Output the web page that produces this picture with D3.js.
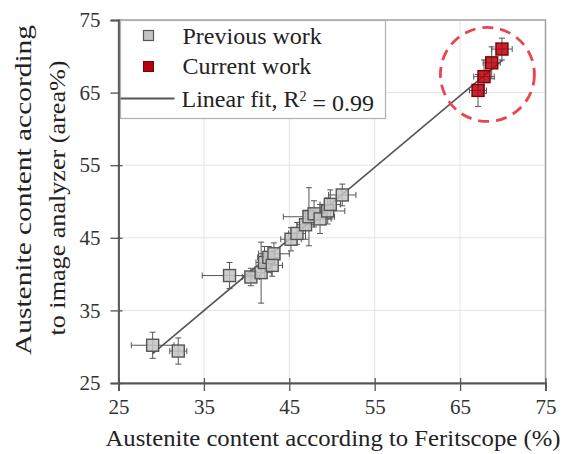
<!DOCTYPE html>
<html>
<head>
<meta charset="utf-8">
<script src="https://cdn.jsdelivr.net/npm/d3@7"></script>
<style>
  body { margin: 0; background: #fff; }
  text { font-family: 'Liberation Serif', 'Times New Roman', serif; }
</style>
</head>
<body>
<div id="chart"></div>
<script>
// previous work (Feritscope %, image analyzer area%)
const prevX = [29.0, 32.0, 38.0, 40.5, 41.7, 42.1, 42.6, 43.2, 43.0, 45.2, 45.9, 46.9, 47.3, 47.9, 48.6, 49.5, 49.8, 51.2];
const prevY = [30.2, 29.4, 39.8, 39.6, 40.2, 41.6, 42.3, 42.8, 41.2, 44.8, 45.6, 46.8, 47.9, 48.3, 47.6, 48.7, 49.6, 50.9];
const prevXErr = [2.5, 1.0, 3.2, 1.0, 1.2, 1.0, 1.3, 1.8, 1.2, 1.2, 1.0, 1.0, 3.0, 1.2, 1.3, 2.0, 1.2, 1.6];
const prevYErr = [1.8, 1.8, 1.8, 1.2, 4.2, 2.2, 1.5, 1.5, 1.5, 1.6, 1.5, 2.0, 4.0, 1.8, 2.0, 1.8, 2.0, 1.5];

// current work
const curX = [67.1, 67.8, 68.7, 69.9];
const curY = [65.3, 67.2, 69.1, 71.0];
const curXErr = [1.0, 1.2, 1.0, 1.2];
const curYErr = [2.2, 2.3, 2.2, 1.5];

// linear fit
const fitSlope = 0.987;
const fitIntercept = 0.43;
const fitRange = [29.0, 70.0];

const ticks = [25, 35, 45, 55, 65, 75];
const highlightCenter = [68.2, 67.5];

const W = 564, H = 454;
const margin = { top: 20, right: 18.5, bottom: 71, left: 118.5 };
const width = W - margin.left - margin.right,
  height = H - margin.top - margin.bottom;

const svg = d3.select('#chart').append('svg')
  .attr('width', W).attr('height', H);
const g = svg.append('g')
  .attr('transform', `translate(${margin.left},${margin.top})`);

const x = d3.scaleLinear().domain([25, 75]).range([0, width]);
const y = d3.scaleLinear().domain([25, 75]).range([height, 0]);

// grid
g.append('g').selectAll('line').data(ticks.slice(1, -1)).join('line')
  .attr('x1', d => x(d)).attr('x2', d => x(d))
  .attr('y1', 0).attr('y2', height)
  .attr('stroke', '#e4e4e4').attr('stroke-width', 1);
g.append('g').selectAll('line').data(ticks.slice(1, -1)).join('line')
  .attr('y1', d => y(d)).attr('y2', d => y(d))
  .attr('x1', 0).attr('x2', width)
  .attr('stroke', '#e4e4e4').attr('stroke-width', 1);

// frame
g.append('rect').attr('width', width).attr('height', height)
  .attr('fill', 'none').attr('stroke', '#a0a0a0').attr('stroke-width', 1.5);

// axes
const xAxis = g.append('g').attr('transform', `translate(0,${height})`)
  .call(d3.axisBottom(x).tickValues(ticks).tickSize(8).tickPadding(8));
const yAxis = g.append('g')
  .call(d3.axisLeft(y).tickValues(ticks).tickSize(8).tickPadding(10));
[xAxis, yAxis].forEach(a => {
  a.select('.domain').attr('stroke', '#555').attr('stroke-width', 1.8);
  a.selectAll('.tick line').attr('stroke', '#555').attr('stroke-width', 1.3);
  a.selectAll('.tick text').attr('font-size', 21)
    .attr('font-family', "'Liberation Serif', serif").attr('fill', '#333');
});
xAxis.selectAll('.tick line').attr('y1', -5);
yAxis.selectAll('.tick line').attr('x1', 4);

// fit line
g.append('line')
  .attr('x1', x(fitRange[0])).attr('y1', y(fitSlope * fitRange[0] + fitIntercept))
  .attr('x2', x(fitRange[1])).attr('y2', y(fitSlope * fitRange[1] + fitIntercept))
  .attr('stroke', '#555').attr('stroke-width', 1.6);

function drawSeries(xs, ys, xe, ye, fill, stroke, size) {
  const data = xs.map((v, i) => ({ x: v, y: ys[i], xe: xe[i], ye: ye[i] }));
  const eb = g.append('g').attr('stroke', '#555').attr('stroke-width', 1);
  const cap = 3;
  data.forEach(d => {
    eb.append('line').attr('x1', x(d.x - d.xe)).attr('x2', x(d.x + d.xe))
      .attr('y1', y(d.y)).attr('y2', y(d.y));
    eb.append('line').attr('x1', x(d.x)).attr('x2', x(d.x))
      .attr('y1', y(d.y - d.ye)).attr('y2', y(d.y + d.ye));
    [d.x - d.xe, d.x + d.xe].forEach(v => eb.append('line')
      .attr('x1', x(v)).attr('x2', x(v)).attr('y1', y(d.y) - cap).attr('y2', y(d.y) + cap));
    [d.y - d.ye, d.y + d.ye].forEach(v => eb.append('line')
      .attr('y1', y(v)).attr('y2', y(v)).attr('x1', x(d.x) - cap).attr('x2', x(d.x) + cap));
  });
  g.append('g').selectAll('rect').data(data).join('rect')
    .attr('x', d => x(d.x) - size / 2).attr('y', d => y(d.y) - size / 2)
    .attr('width', size).attr('height', size)
    .attr('fill', fill).attr('fill-opacity', 0.85)
    .attr('stroke', stroke).attr('stroke-width', 1.4);
}

drawSeries(prevX, prevY, prevXErr, prevYErr, '#c4c4c4', '#555', 12);
drawSeries(curX, curY, curXErr, curYErr, '#b8000c', '#7a0008', 12);

// highlight circle
g.append('circle')
  .attr('cx', x(highlightCenter[0])).attr('cy', y(highlightCenter[1]))
  .attr('r', 47)
  .attr('fill', 'none').attr('stroke', '#e8454f').attr('stroke-width', 2.8)
  .attr('stroke-dasharray', '11,7');

// legend
const lg = svg.append('g').attr('transform', 'translate(120.5,20.5)');
lg.append('rect').attr('width', 265).attr('height', 98)
  .attr('fill', '#fff').attr('stroke', '#b0b0b0').attr('stroke-width', 1.2);
lg.append('rect').attr('x', 23).attr('y', 10).attr('width', 10).attr('height', 10)
  .attr('fill', '#c4c4c4').attr('stroke', '#555').attr('stroke-width', 1.2);
lg.append('rect').attr('x', 23).attr('y', 41).attr('width', 10).attr('height', 10)
  .attr('fill', '#b8000c').attr('stroke', '#7a0008').attr('stroke-width', 1);
lg.append('line').attr('x1', 0).attr('x2', 54).attr('y1', 78).attr('y2', 78)
  .attr('stroke', '#555').attr('stroke-width', 1.8);
const lt = [['Previous work', 15], ['Current work', 45]];
lt.forEach(([t, yy]) => lg.append('text').attr('x', 62).attr('y', yy)
  .attr('dy', '0.35em').attr('font-size', 24).attr('fill', '#222').text(t));
const fitText = lg.append('text').attr('x', 61).attr('y', 78).attr('dy', '0.35em')
  .attr('font-size', 24).attr('fill', '#222');
fitText.append('tspan').text('Linear fit, R');
fitText.append('tspan').attr('dy', '-0.45em').attr('font-size', 14).text('2');
fitText.append('tspan').attr('dy', '0.45em').text(' = 0.99');

// axis titles
svg.append('text').attr('x', 333).attr('y', 446)
  .attr('text-anchor', 'middle').attr('font-size', 24).attr('fill', '#222')
  .attr('textLength', 455).attr('lengthAdjust', 'spacingAndGlyphs')
  .text('Austenite content according to Feritscope (%)');
svg.append('text')
  .attr('transform', 'translate(31,190) rotate(-90)')
  .attr('text-anchor', 'middle').attr('font-size', 23).attr('fill', '#222')
  .attr('textLength', 330).attr('lengthAdjust', 'spacingAndGlyphs')
  .text('Austenite content according');
svg.append('text')
  .attr('transform', 'translate(65,198) rotate(-90)')
  .attr('text-anchor', 'middle').attr('font-size', 23).attr('fill', '#222')
  .attr('textLength', 275).attr('lengthAdjust', 'spacingAndGlyphs')
  .text('to image analyzer (area%)');
</script>
</body>
</html>
